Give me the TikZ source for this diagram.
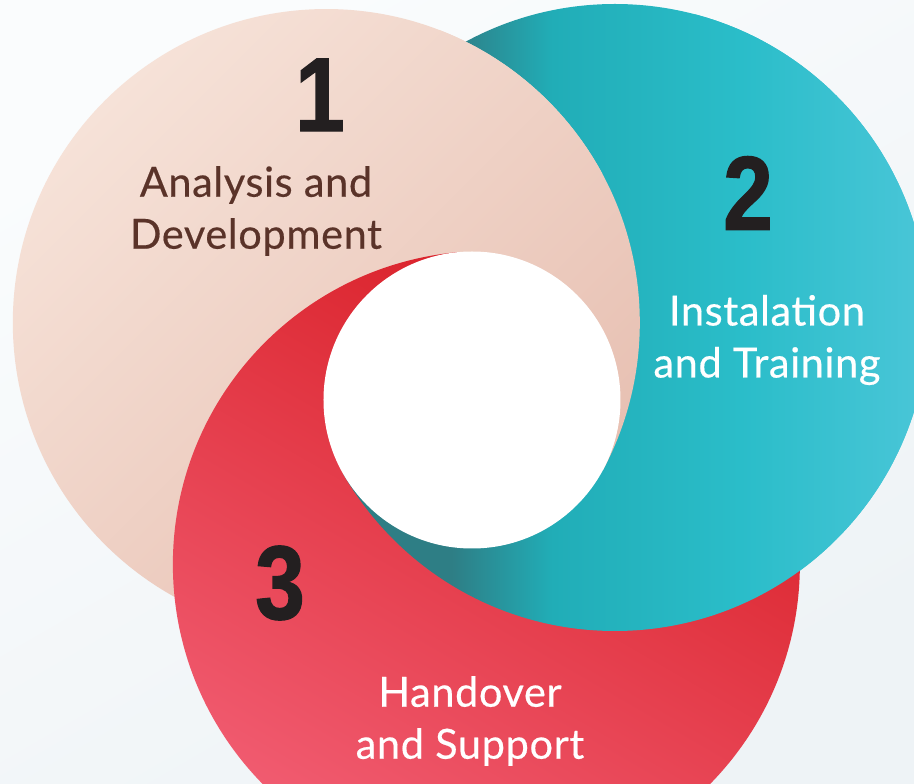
\documentclass[tikz,border=0pt]{standalone}
\usepackage{fontspec}
\setmainfont{Lato}[FakeBold=0.4,LetterSpace=1.5]
\newfontfamily\numfont[FakeStretch=0.85,FakeBold=1.2]{Liberation Sans}

\definecolor{bgA}{HTML}{FAFCFD}
\definecolor{bgB}{HTML}{EEF3F6}
\definecolor{peachA}{HTML}{F6E2D8}
\definecolor{peachB}{HTML}{E7BFB1}
\definecolor{tealA}{HTML}{2E7E85}
\definecolor{tealB}{HTML}{21ADB7}
\definecolor{tealM}{HTML}{2ABDC9}
\definecolor{tealC}{HTML}{4AC6D8}
\definecolor{redA}{HTML}{D81D24}
\definecolor{redM}{HTML}{E8343F}
\definecolor{redB}{HTML}{F15C71}
\definecolor{brownTxt}{HTML}{5A3329}
\definecolor{numTxt}{HTML}{231F20}

\pgfdeclarehorizontalshading{tealshade}{100bp}{color(0bp)=(tealA); color(37bp)=(tealA); color(45bp)=(tealB); color(60bp)=(tealM); color(75bp)=(tealC); color(100bp)=(tealC)}

% the three rings, each one internally tangent to the hole
\newcommand{\peachdisk}{\shade[top color=peachA, bottom color=peachB, shading angle=45] (152:165) circle (313.5);}
\newcommand{\tealdisk}{\shade[shading=tealshade] (30:165) circle (313.5);}
\newcommand{\reddisk}{\shade[top color=redA, middle color=redM, bottom color=redB, shading angle=-30] (-85:165) circle (313.5);}

\begin{document}
\begin{tikzpicture}[x=1pt, y=1pt,
    numtxt/.style={text=numTxt, font=\numfont\bfseries\fontsize{105}{105}\selectfont, inner sep=0pt},
    labtxt/.style={align=center, inner sep=0pt, font=\fontsize{41.5}{52}\selectfont}]

\useasboundingbox (-472,-384) rectangle (442,400);
\clip (-472,-384) rectangle (442,400);
\shade[top color=bgA, bottom color=bgB, shading angle=30] (-472,-384) rectangle (442,400);

% base: red over peach over teal (right for the left part)
\tealdisk
\peachdisk
\reddisk

% teal comes up over the bottom and the right
\begin{scope}
\clip (0,0) -- (210:1500) -- (280:1500) -- (350:1500) -- (420:1500) -- cycle;
\tealdisk
\end{scope}

% peach goes over the right part
\begin{scope}
\clip (0,0) -- (332:1500) -- (393.5:1500) -- (455:1500) -- cycle;
\peachdisk
\end{scope}

% hole
\fill[white] (0,0) circle (148.5);

% -------- numbers and labels -----------
\node[numtxt] (n1) at (-152, 305) {1};
\node[labtxt, text=brownTxt] (l1) at (-216, 189) {Analysis and\\Development};

\node[numtxt] (n2) at (276, 207) {2};
\node[labtxt, text=white] (l2) at (295, 60) {Instalation\\and Training};

\node[numtxt] (n3) at (-192, -183) {3};
\node[labtxt, text=white] (l3) at (-2, -321) {Handover\\and Support};
\end{tikzpicture}
\end{document}
